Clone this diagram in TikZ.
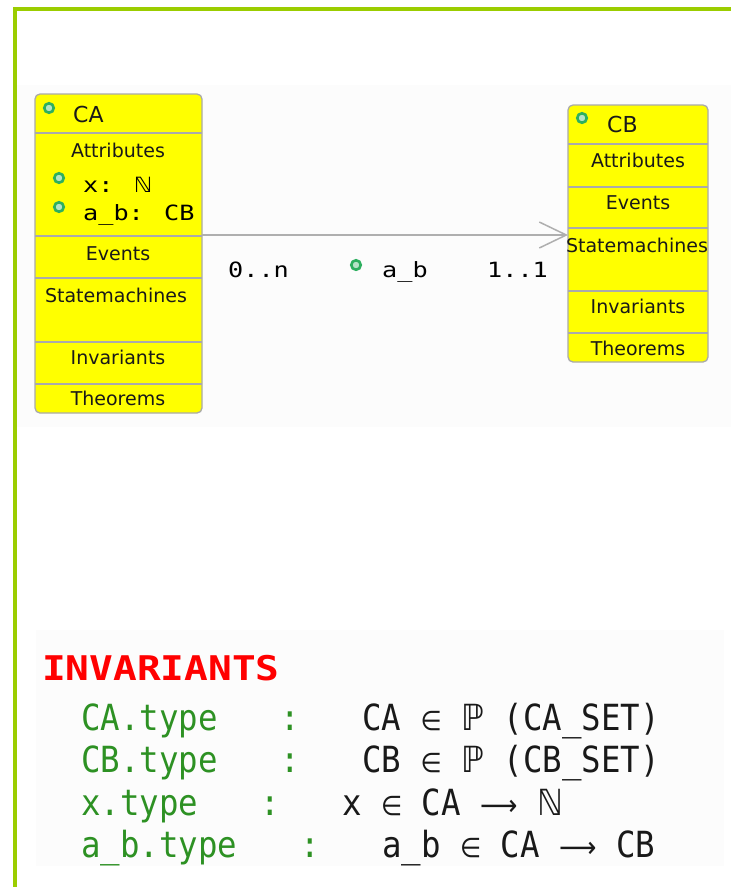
\documentclass[tikz,border=0pt]{standalone}
\usepackage{fontspec}
\setmainfont{DejaVu Sans}
\setmonofont{DejaVu Sans Mono}
\newfontfamily\boxmono{DejaVu Sans Mono}[FakeStretch=1.2]
\newfontfamily\boxsym{DejaVu Sans}[FakeStretch=1.1]
\newfontfamily\headmono{DejaVu Sans Mono}[FakeStretch=1.16]
\newfontfamily\invmono{DejaVu Sans Mono}[FakeStretch=0.9]
\newfontfamily\invsym{DejaVu Sans}[FakeStretch=0.9]
\usetikzlibrary{arrows.meta}

\definecolor{framegreen}{RGB}{155,205,0}
\definecolor{boxfill}{RGB}{255,255,0}
\definecolor{boxline}{RGB}{170,170,170}
\definecolor{dotgreen}{RGB}{45,175,95}
\definecolor{assocgray}{RGB}{175,175,175}
\definecolor{invgreen}{RGB}{45,145,35}
\definecolor{invred}{RGB}{255,0,0}
\definecolor{panel}{RGB}{252,252,252}

\begin{document}
\begin{tikzpicture}[x=1pt,y=-1pt,
  classbox/.style={draw=boxline, line width=1.3pt, fill=boxfill,
    rounded corners=5pt, inner sep=0pt, outer sep=0pt},
  divider/.style={draw=boxline, line width=1.2pt},
  boxlabel/.style={font=\fontsize{19}{19}\selectfont, text=black!90, inner sep=0pt, anchor=base},
  boxtitle/.style={font=\fontsize{22}{22}\selectfont, text=black!90, inner sep=0pt, anchor=base west},
  attr/.style={font=\boxmono\fontsize{21}{21}\selectfont, inner sep=0pt, anchor=base west},
  visdot/.style={circle, minimum size=9.5pt, inner sep=0pt, draw=dotgreen,
    line width=2.6pt, fill=dotgreen!35},
  assoc/.style={draw=assocgray, line width=1.5pt,
    -{Straight Barb[length=27pt, width=26pt, line width=1.5pt]}},
  invhead/.style={font=\headmono\bfseries\fontsize{34}{34}\selectfont,
    text=invred, inner sep=0pt, anchor=base west},
  invname/.style={font=\invmono\fontsize{36}{36}\selectfont,
    text=invgreen, inner sep=0pt, anchor=base west},
  invcolon/.style={font=\invmono\fontsize{36}{36}\selectfont,
    text=invgreen, inner sep=0pt, anchor=base},
  invexpr/.style={font=\invmono\fontsize{36}{36}\selectfont,
    text=black!90, inner sep=0pt, anchor=base west}
]
\newcommand{\bsym}[1]{{\boxsym #1}}
\newcommand{\isym}[1]{{\invsym #1}}
% smaller membership sign and long arrow, as set in the typing lines
\newcommand{\imem}{{\invsym\fontsize{27}{27}\selectfont ∈}}
\newcommand{\ifun}{{\invsym\fontsize{29}{29}\selectfont ⟶}}

% canvas and panels
\useasboundingbox (0,0) rectangle (731,887);
\fill[white] (0,0) rectangle (731,887);
\fill[panel] (17,85) rectangle (731,427);
\fill[panel] (36,630) rectangle (724,866);

% frame (top and left edges)
\draw[framegreen, line width=4pt] (15,887) -- (15,8.5) -- (731,8.5);

% class CA
\node[classbox, minimum width=167pt, minimum height=319pt] (CA) at (118.5,253.5) {};
\foreach \yy in {133,236,278,342,384}
  \draw[divider] (35,\yy) -- (202,\yy);
\node[visdot] (caDot) at (49,108) {};
\node[boxtitle] (caTitle) at (73,122) {CA};
\node[boxlabel] (caAttr) at (118,157) {Attributes};
\node[visdot] (caXDot) at (59,178) {};
\node[attr] (caX) at (83,192) {x: \bsym{ℕ}};
\node[visdot] (caABDot) at (59,207) {};
\node[attr] (caAB) at (83,220) {a\_b: CB};
\node[boxlabel] (caEvents) at (118,260) {Events};
\node[boxlabel] (caSM) at (116,302) {Statemachines};
\node[boxlabel] (caInv) at (118,364) {Invariants};
\node[boxlabel] (caThm) at (118,405) {Theorems};

% class CB
\node[classbox, minimum width=140pt, minimum height=257pt] (CB) at (638,233.5) {};
\foreach \yy in {144,187,228,291,333}
  \draw[divider] (568,\yy) -- (708,\yy);
\node[visdot] (cbDot) at (582,118) {};
\node[boxtitle] (cbTitle) at (607,132) {CB};
\node[boxlabel] (cbAttr) at (638,167) {Attributes};
\node[boxlabel] (cbEvents) at (638,209) {Events};
\node[boxlabel] (cbSM) at (637,252) {Statemachines};
\node[boxlabel] (cbInv) at (638,313) {Invariants};
\node[boxlabel] (cbThm) at (638,355) {Theorems};

% association a_b from CA to CB
\coordinate (assocY) at (0,235);
\draw[assoc] (CA.east |- assocY) -- (CB.west |- assocY);
\node[attr] (multA) at (228,277) {0..n};
\node[visdot] (abDot) at (356,265) {};
\node[attr] (abName) at (382,277) {a\_b};
\node[attr] (multB) at (487,277) {1..1};

% typing invariants
\node[invhead] (invTitle) at (42,680) {INVARIANTS};

\node[invname] (n1) at (81,730) {CA.type};
\node[invcolon] (c1) at (290,730) {:};
\node[invexpr] (e1) at (362,730) {CA \imem{} \isym{ℙ} (CA\_SET)};

\node[invname] (n2) at (81,772) {CB.type};
\node[invcolon] (c2) at (290,772) {:};
\node[invexpr] (e2) at (362,772) {CB \imem{} \isym{ℙ} (CB\_SET)};

\node[invname] (n3) at (81,815) {x.type};
\node[invcolon] (c3) at (270,815) {:};
\node[invexpr] (e3) at (342,815) {x \imem{} CA \ifun{} \isym{ℕ}};

\node[invname] (n4) at (81,857) {a\_b.type};
\node[invcolon] (c4) at (310,857) {:};
\node[invexpr] (e4) at (382,857) {a\_b \imem{} CA \ifun{} CB};
\end{tikzpicture}
\end{document}
